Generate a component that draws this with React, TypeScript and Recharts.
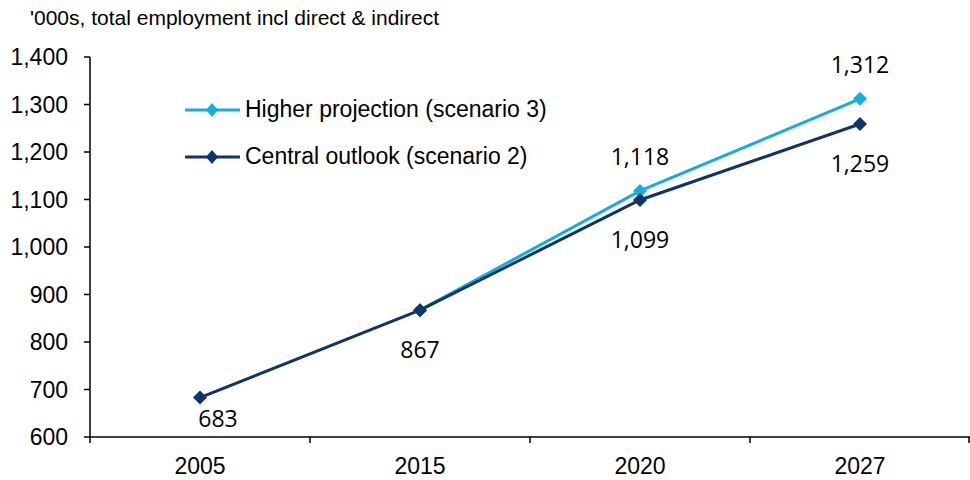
import { ComposedChart, Line, XAxis, YAxis, LabelList } from 'recharts';

const years = ['2005', '2015', '2020', '2027'];
const central = [683, 867, 1099, 1259];
const higher = [null, 867, 1118, 1312];
const yTicks = [600, 700, 800, 900, 1000, 1100, 1200, 1300, 1400];
const seriesNames = ['Higher projection (scenario 3)', 'Central outlook (scenario 2)'];

const W = 970;
const H = 480;
const Y_AXIS_W = 90;
const LIGHT = '#16ACDD';
const DARK = '#0F3468';
const AXIS_FONT = '"Liberation Sans", Arial, sans-serif';
const LABEL_FONT = '"Open Sans", "Noto Sans", sans-serif';

const data = years.map((year, i) => ({ year, central: central[i], higher: higher[i] }));

const fmt = (v: number) => v.toLocaleString('en-US');

const band = (W - Y_AXIS_W) / years.length;

function Diamond(props: any) {
  const { cx, cy, fill, index } = props;
  if (cx == null || cy == null) return <g key={index} />;
  const r = 7;
  return (
    <polygon
      key={index}
      points={`${cx},${cy - r} ${cx + r},${cy} ${cx},${cy + r} ${cx - r},${cy}`}
      fill={fill}
    />
  );
}

function XTick(props: any) {
  const { x, y, payload, index } = props;
  const last = index === years.length - 1;
  return (
    <g>
      <line x1={x - band / 2} y1={y} x2={x - band / 2} y2={y + 6} stroke="#000" strokeWidth={1.5} />
      {last && <line x1={x + band / 2 - 1} y1={y} x2={x + band / 2 - 1} y2={y + 6} stroke="#000" strokeWidth={1.5} />}
      <text x={x} y={y + 37} textAnchor="middle" fontSize={23} fontFamily={AXIS_FONT} fill="#000">
        {payload.value}
      </text>
    </g>
  );
}

// where each value label sits relative to its marker
const centralLabel = (props: any) => {
  const { x, y, value, index } = props;
  if (value == null) return null;
  const dx = index === 0 ? 18 : 0;
  const dy = index === 0 ? 29 : 48;
  return (
    <text key={index} x={x + dx} y={y + dy} textAnchor="middle" fontSize={23} fontFamily={LABEL_FONT} fill="#000">
      {fmt(value)}
    </text>
  );
};

const higherLabel = (props: any) => {
  const { x, y, value, index } = props;
  if (value == null || index < 2) return null;
  return (
    <text key={index} x={x} y={y - 26} textAnchor="middle" fontSize={23} fontFamily={LABEL_FONT} fill="#000">
      {fmt(value)}
    </text>
  );
};

function LegendBox() {
  const rows = [
    { name: seriesNames[0], color: LIGHT },
    { name: seriesNames[1], color: DARK },
  ];
  return (
    <div style={{ position: 'absolute', left: 185, top: 86, fontFamily: AXIS_FONT, fontSize: 23 }}>
      {rows.map((r) => (
        <div key={r.name} style={{ display: 'flex', alignItems: 'center', height: 47 }}>
          <svg width={58} height={16}>
            <line x1={0} y1={8} x2={55} y2={8} stroke={r.color} strokeWidth={3} />
            <polygon points="27,1 33,8 27,15 21,8" fill={r.color} />
          </svg>
          <span style={{ marginLeft: 2 }}>{r.name}</span>
        </div>
      ))}
    </div>
  );
}

export default function App() {
  return (
    <div style={{ position: 'absolute', left: 0, top: 0, width: W, height: H, background: '#fff' }}>
      <div
        style={{
          position: 'absolute',
          left: 30,
          top: 6,
          fontFamily: AXIS_FONT,
          fontSize: 21,
          letterSpacing: 0,
          color: '#000',
        }}
      >
        '000s, total employment incl direct &amp; indirect
      </div>
      <ComposedChart width={W} height={H} data={data} margin={{ top: 57, right: 0, bottom: 0, left: 0 }}>
        <XAxis
          dataKey="year"
          scale="band"
          axisLine={{ stroke: '#000', strokeWidth: 1.5 }}
          tickLine={false}
          tickSize={0}
          tickMargin={0}
          tick={<XTick />}
          height={43}
          interval={0}
        />
        <YAxis
          domain={[600, 1400]}
          ticks={yTicks}
          width={Y_AXIS_W}
          tickFormatter={fmt}
          axisLine={{ stroke: '#000', strokeWidth: 1.5 }}
          tickLine={{ stroke: '#000', strokeWidth: 1.5 }}
          tickSize={6}
          tickMargin={16}
          tick={{ fontSize: 23, fill: '#000', fontFamily: AXIS_FONT }}
          allowDataOverflow
        />
        <Line
          dataKey="higher"
          name={seriesNames[0]}
          stroke={LIGHT}
          strokeWidth={3}
          dot={<Diamond fill={LIGHT} />}
          activeDot={false}
          isAnimationActive={false}
        >
          <LabelList dataKey="higher" content={higherLabel} />
        </Line>
        <Line
          dataKey="central"
          name={seriesNames[1]}
          stroke={DARK}
          strokeWidth={3}
          dot={<Diamond fill={DARK} />}
          activeDot={false}
          isAnimationActive={false}
        >
          <LabelList dataKey="central" content={centralLabel} />
        </Line>
      </ComposedChart>
      <LegendBox />
    </div>
  );
}
